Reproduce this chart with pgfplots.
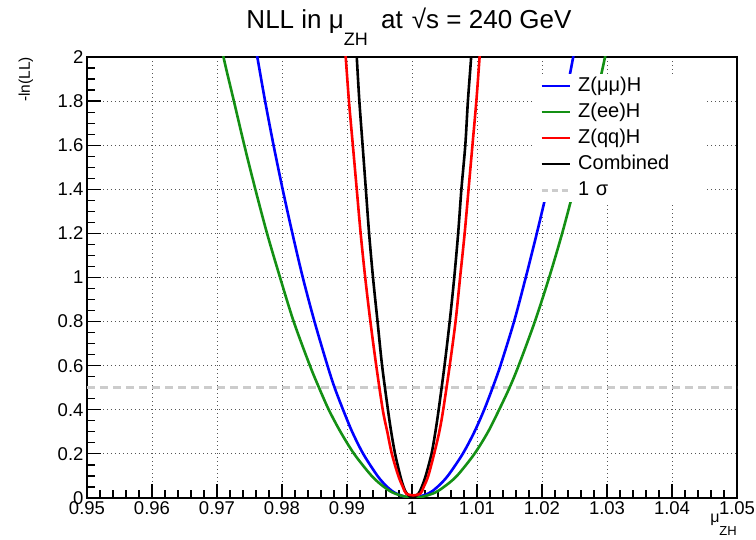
\documentclass[border=0pt]{standalone}
\usepackage{fontspec}
\setmainfont{Liberation Sans}
\usepackage{pgfplots}
\pgfplotsset{compat=1.18}
\usetikzlibrary{calc}
\definecolor{MuBlue}{HTML}{0000FF}
\definecolor{EeGreen}{HTML}{149014}
\definecolor{QqRed}{HTML}{FF0000}
\definecolor{SigGray}{HTML}{CCCCCC}
\definecolor{GridGray}{HTML}{555555}

\begin{document}
\begin{tikzpicture}
\begin{axis}[scale only axis,width=650pt,height=441pt,
  xmin=0.95,xmax=1.05,ymin=0,ymax=2,
  xtick={0.95,0.96,...,1.051},ytick={0,0.2,...,2.01},
  minor x tick num=4,minor y tick num=3,
  tick pos=left,tick align=inside,
  major tick length=14pt,minor tick length=8pt,
  every tick/.style={black,line width=1.2pt},
  axis line style={line width=1.4pt},
  grid=major,major grid style={GridGray,line width=0.9pt,dash pattern=on 1pt off 3pt},
  /pgf/number format/assume math mode=true,
  xticklabel style={font=\fontsize{18.5}{18.5}\selectfont,/pgf/number format/fixed,/pgf/number format/precision=2},
  yticklabel style={font=\fontsize{18.5}{18.5}\selectfont,/pgf/number format/fixed,/pgf/number format/precision=1},
  legend cell align=left,
  legend image code/.code={\draw[#1] (0pt,0pt) -- (28pt,0pt);},
  legend style={at={(rel axis cs:0.6846,0.9615)},anchor=north west,draw=none,fill=white,
    font=\fontsize{20}{20}\selectfont,inner xsep=8pt,inner ysep=2pt,row sep=6pt,column sep=6pt,
    nodes={inner sep=1pt,text width=118pt,text height=14pt,text depth=4pt}}]

\addlegendimage{MuBlue,line width=2.6pt}
\addlegendentry{Z(μμ)H}
\addlegendimage{EeGreen,line width=2.6pt}
\addlegendentry{Z(ee)H}
\addlegendimage{QqRed,line width=2.6pt}
\addlegendentry{Z(qq)H}
\addlegendimage{black,line width=2.6pt}
\addlegendentry{Combined}
\addlegendimage{SigGray,line width=3pt,dash pattern=on 6pt off 4pt}
\addlegendentry{1 σ}

% 1 sigma reference
\addplot[SigGray,line width=3pt,dash pattern=on 8pt off 5pt,forget plot] coordinates {(0.95,0.5) (1.05,0.5)};

% Z(mumu)H
\addplot[MuBlue,line width=2.6pt,smooth,tension=0.5,forget plot] coordinates {
(0.9750,2.2) (0.9762,2.0) (0.9774,1.8) (0.9787,1.6) (0.9801,1.4) (0.9816,1.2) (0.9832,1.0)
(0.9850,0.8) (0.9870,0.6) (0.9881,0.5) (0.9894,0.4) (0.9908,0.3) (0.9925,0.2) (0.9947,0.1)
(0.9962,0.05) (0.9976,0.02) (1.0000,0.0) (1.0025,0.02) (1.0039,0.05) (1.0055,0.1)
(1.0078,0.2) (1.0096,0.3) (1.0111,0.4) (1.0124,0.5) (1.0136,0.6) (1.0157,0.8) (1.0175,1.0)
(1.0192,1.2) (1.0208,1.4) (1.0222,1.6) (1.0235,1.8) (1.0248,2.0) (1.0260,2.2)};

% Z(ee)H
\addplot[EeGreen,line width=2.6pt,smooth,tension=0.5,forget plot] coordinates {
(0.9697,2.2) (0.9710,2.0) (0.9726,1.8) (0.9742,1.6) (0.9759,1.4) (0.9777,1.2) (0.9797,1.0)
(0.9818,0.8) (0.9843,0.6) (0.9857,0.5) (0.9872,0.4) (0.9890,0.3) (0.9911,0.2) (0.9938,0.1)
(0.9957,0.05) (0.9974,0.02) (1.0003,0.0) (1.0032,0.02) (1.0049,0.05) (1.0069,0.1)
(1.0096,0.2) (1.0117,0.3) (1.0134,0.4) (1.0150,0.5) (1.0164,0.6) (1.0189,0.8) (1.0211,1.0)
(1.0231,1.2) (1.0249,1.4) (1.0266,1.6) (1.0282,1.8) (1.0297,2.0) (1.0311,2.2)};

% combined
\addplot[black,line width=2.6pt,smooth,tension=0.5,forget plot] coordinates {
(0.9911,2.2) (0.9915,2.0) (0.9919,1.8) (0.9924,1.6) (0.9929,1.4) (0.9934,1.2) (0.9940,1.0)
(0.9947,0.8) (0.9954,0.6) (0.9963,0.4) (0.9968,0.3) (0.9974,0.2) (0.9982,0.1) (0.9987,0.05)
(0.9992,0.02) (1.0001,0.0) (1.0010,0.02) (1.0015,0.05) (1.0021,0.1) (1.0030,0.2) (1.0036,0.3)
(1.0041,0.4) (1.0050,0.6) (1.0058,0.8) (1.0065,1.0) (1.0071,1.2) (1.0076,1.4) (1.0082,1.6)
(1.0086,1.8) (1.0091,2.0) (1.0095,2.2)};

% Z(qq)H
\addplot[QqRed,line width=2.6pt,smooth,tension=0.5,forget plot] coordinates {
(0.9893,2.2) (0.9898,2.0) (0.9903,1.8) (0.9909,1.6) (0.9915,1.4) (0.9921,1.2) (0.9928,1.0)
(0.9936,0.8) (0.9945,0.6) (0.9955,0.4) (0.9962,0.3) (0.9969,0.2) (0.9979,0.1) (0.9986,0.05)
(0.9991,0.02) (1.0002,0.012) (1.0013,0.02) (1.0018,0.05) (1.0025,0.1) (1.0034,0.2) (1.0042,0.3)
(1.0048,0.4) (1.0058,0.6) (1.0067,0.8) (1.0074,1.0) (1.0081,1.2) (1.0087,1.4) (1.0093,1.6)
(1.0099,1.8) (1.0104,2.0) (1.0109,2.2)};

\coordinate (sw) at (rel axis cs:0,0);
\coordinate (ne) at (rel axis cs:1,1);
\end{axis}

\node[anchor=base,font=\fontsize{26}{26}\selectfont,inner sep=0pt]
  at ($(sw|-ne)+(322pt,28pt)$)
  {NLL in μ\raisebox{-17pt}{\fontsize{18}{18}\selectfont ZH}\hspace{6pt} at \hspace{2pt}√s = 240 GeV};
\node[anchor=base east,rotate=90,font=\fontsize{15.5}{15.5}\selectfont,inner sep=0pt]
  at ($(sw|-ne)+(-57pt,0pt)$) {-ln(LL)};
\node[anchor=base east,font=\fontsize{16}{16}\selectfont,inner sep=0pt]
  at ($(ne|-sw)+(0pt,-25pt)$) {μ\raisebox{-13pt}{\fontsize{13}{13}\selectfont ZH}};

\pgfresetboundingbox
\path[use as bounding box] ($(sw)+(-87pt,-42pt)$) rectangle ($(ne)+(19pt,57pt)$);
\end{tikzpicture}
\end{document}
